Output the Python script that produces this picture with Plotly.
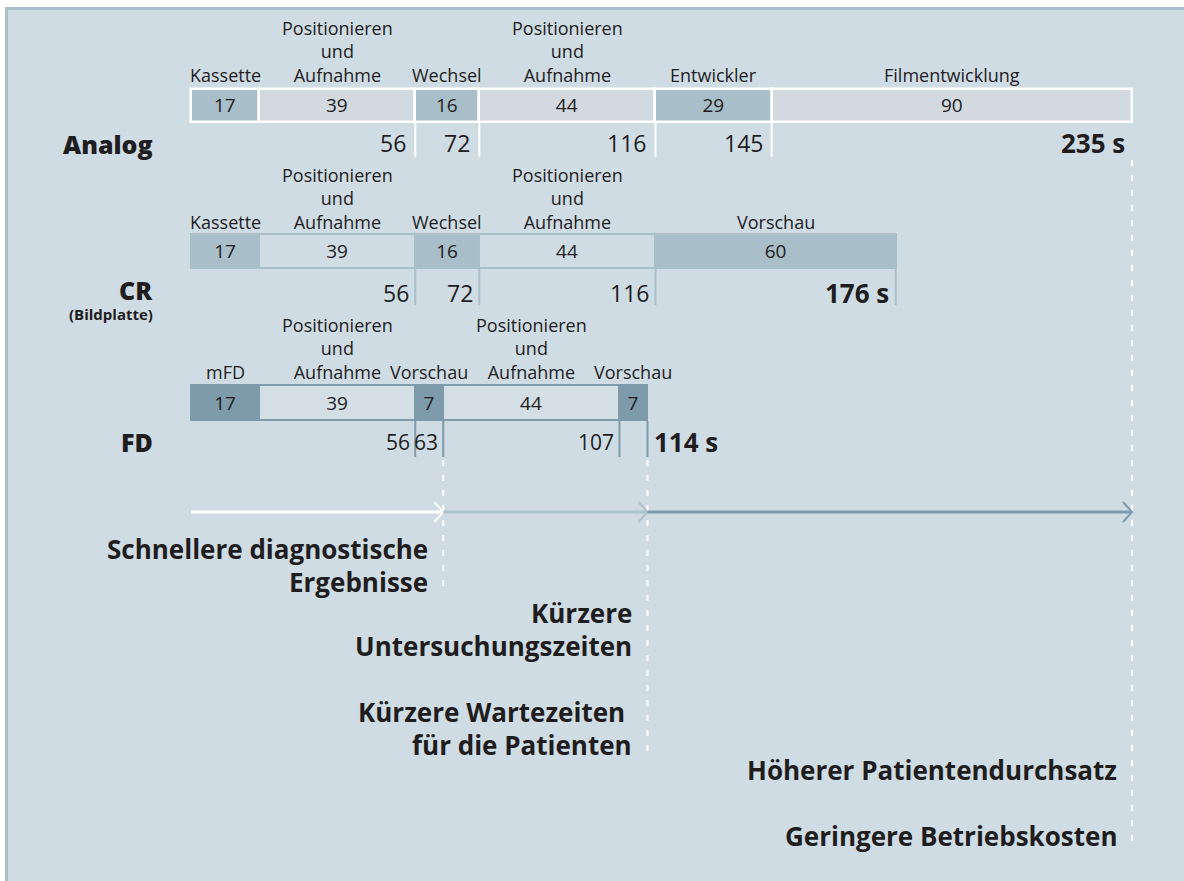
import numpy as np
import plotly.graph_objects as go

# ---------------- data ----------------
analog_steps = ["Kassette", "Positionieren\nund\nAufnahme", "Wechsel",
                "Positionieren\nund\nAufnahme", "Entwickler", "Filmentwicklung"]
analog_secs = [17, 39, 16, 44, 29, 90]

cr_steps = ["Kassette", "Positionieren\nund\nAufnahme", "Wechsel",
            "Positionieren\nund\nAufnahme", "Vorschau"]
cr_secs = [17, 39, 16, 44, 60]

fd_steps = ["mFD", "Positionieren\nund\nAufnahme", "Vorschau",
            "Positionieren\nund\nAufnahme", "Vorschau"]
fd_secs = [17, 39, 7, 44, 7]

system_names = ["Analog", "CR", "FD"]
system_notes = ["", "(Bildplatte)", ""]

benefit_first_preview = ["Schnellere diagnostische", "Ergebnisse"]
benefit_fd_total = ["Kürzere", "Untersuchungszeiten", "", "Kürzere Wartezeiten ", "für die Patienten"]
benefit_analog_total = ["Höherer Patientendurchsatz", "", "Geringere Betriebskosten"]
unit = "s"

# ---------------- styles / layout ----------------
W, H = 1184, 881
X0_PX, X235_PX = 191, 1132          # pixel positions of 0 s and 235 s
S = (X235_PX - X0_PX) / 235.0       # px per second
XMIN = -X0_PX / S
XMAX = XMIN + W / S

BG = "#cfdce4"
BORDER = "#a9bfca"
DARK_A = "#a8bec9"
LIGHT_A = "#d2d9df"
DARK_FD = "#7d9bab"
LIGHT_FD = "#d3dee5"
TEXT = "#1f1d1e"
FONT = "Open Sans"
LABEL_SIZE = 18

rows = [
    dict(secs=analog_secs, steps=analog_steps, top=88, bot=123, lab=75, num=143, sepbot=157,
         dark=DARK_A, light=LIGHT_A, line="#ffffff", linew=2.5, sep="#ffffff",
         sep_end=False, total_side="left", name_y=144, note_y=None, num_size=23, num_shift=-7),
    dict(secs=cr_secs, steps=cr_steps, top=233, bot=269, lab=222, num=293, sepbot=305,
         dark=DARK_A, light=BG, line=BORDER, linew=2, sep=BORDER,
         sep_end=True, total_side="left", name_y=290, note_y=314, num_size=23, num_shift=-4),
    dict(secs=fd_secs, steps=fd_steps, top=384, bot=421, lab=372, num=442, sepbot=457,
         dark=DARK_FD, light=LIGHT_FD, line=DARK_FD, linew=2, sep=DARK_FD,
         sep_end=True, total_side="right", name_y=442, note_y=None, num_size=21, num_shift=-3),
]

fig = go.Figure()
shapes = []
annotations = []


def ann(x, y, text, size, weight="normal", xanchor="center", xref="x", xshift=0, color=TEXT):
    annotations.append(dict(x=x, y=y, xref=xref, yref="y", text=text, showarrow=False,
                            xanchor=xanchor, yanchor="middle", xshift=xshift,
                            font=dict(family=FONT, size=size, color=color, weight=weight)))


# panel background + border
shapes.append(dict(type="rect", xref="paper", yref="y", x0=5 / W, x1=1, y0=7, y1=H,
                   fillcolor=BG, line=dict(width=0), layer="below"))
shapes.append(dict(type="line", xref="paper", yref="y", x0=6.5 / W, x1=6.5 / W, y0=7, y1=H,
                   line=dict(color=BORDER, width=3), layer="below"))
shapes.append(dict(type="line", xref="paper", yref="y", x0=5 / W, x1=1, y0=8.5, y1=8.5,
                   line=dict(color=BORDER, width=3), layer="below"))

for i, r in enumerate(rows):
    secs = np.array(r["secs"])
    ends = np.cumsum(secs)
    starts = ends - secs
    mids = starts + secs / 2
    lw = r["linew"]
    fills = [r["dark"] if k % 2 == 0 else r["light"] for k in range(len(secs))]
    fig.add_trace(go.Bar(
        orientation="h", y=[(r["top"] + r["bot"]) / 2] * len(secs), x=secs, base=starts,
        width=(r["bot"] - r["top"]) - lw,
        marker=dict(color=fills, line=dict(color=r["line"], width=lw)),
        text=[str(v) for v in secs], textposition="inside", insidetextanchor="middle",
        textangle=0, constraintext="none",
        insidetextfont=dict(family=FONT, size=19, color=TEXT),
        hoverinfo="skip", showlegend=False))

    # step labels above bar (bottom line aligned at r["lab"])
    spacing = 1.3 * LABEL_SIZE
    for m, st in zip(mids, r["steps"]):
        lines = st.split("\n")
        yc = r["lab"] - (len(lines) - 1) * spacing / 2
        ann(m, yc, "<br>".join(lines), LABEL_SIZE)

    # separators below bar
    sep_pos = ends[1:] if r["sep_end"] else ends[1:-1]
    for e in sep_pos:
        shapes.append(dict(type="line", xref="x", yref="y", x0=e, x1=e, y0=r["bot"], y1=r["sepbot"],
                           line=dict(color=r["sep"], width=2)))

    # cumulative numbers
    for e in ends[1:-1]:
        ann(e, r["num"], str(int(e)), r["num_size"], xanchor="right", xshift=r["num_shift"])
    if r["total_side"] == "left":
        ann(ends[-1], r["num"], f"{int(ends[-1])} {unit}", 26, weight="bold", xanchor="right", xshift=-5)
    else:
        ann(ends[-1], r["num"], f"{int(ends[-1])} {unit}", 26, weight="bold", xanchor="left", xshift=5)

    # system name
    ann(155 / W, r["name_y"], system_names[i], 25, weight=800, xanchor="right", xref="paper")
    if system_notes[i]:
        ann(155 / W, r["note_y"], system_notes[i], 15, weight="bold", xanchor="right", xref="paper")

# key time points
fd_ends = np.cumsum(fd_secs)
analog_ends = np.cumsum(analog_secs)
t_preview = fd_ends[2]
t_fd = fd_ends[-1]
t_analog = analog_ends[-1]

# dashed white guide lines
for t, y0, y1 in [(t_preview, 460, 592), (t_fd, 460, 758), (t_analog, 160, 850)]:
    shapes.append(dict(type="line", xref="x", yref="y", x0=t, x1=t, y0=y0, y1=y1,
                       line=dict(color="#ffffff", width=2, dash="6px,9px")))

# arrows
ARROW_Y = 512
for a, b, col in [(0, t_preview, "#ffffff"), (t_preview, t_fd, "#adc2cc"), (t_fd, t_analog, DARK_FD)]:
    shapes.append(dict(type="line", xref="x", yref="y", x0=a, x1=b, y0=ARROW_Y, y1=ARROW_Y,
                       line=dict(color=col, width=3)))
    dx = 9 / S
    shapes.append(dict(type="path", xref="x", yref="y",
                       path=f"M {b - dx},{ARROW_Y - 10} L {b},{ARROW_Y} L {b - dx},{ARROW_Y + 10}",
                       line=dict(color=col, width=2)))

# benefits text
for lines, t, y_first in [(benefit_first_preview, t_preview, 549),
                          (benefit_fd_total, t_fd, 613),
                          (benefit_analog_total, t_analog, 770)]:
    for j, ln in enumerate(lines):
        if ln:
            ann(t, y_first + j * 33, ln.replace(" ", "\u00a0") if ln.endswith(" ") else ln,
                26, weight="bold", xanchor="right", xshift=-13)

fig.update_layout(
    width=W, height=H, margin=dict(l=0, r=0, t=0, b=0),
    paper_bgcolor="#ffffff", plot_bgcolor="rgba(0,0,0,0)",
    barmode="overlay", bargap=0,
    xaxis=dict(range=[XMIN, XMAX], visible=False, fixedrange=True),
    yaxis=dict(range=[H, 0], visible=False, fixedrange=True),
    shapes=shapes, annotations=annotations, showlegend=False,
)

fig.write_html("out.html", config={"displayModeBar": False},
               post_script="document.body.style.margin='0';document.body.style.overflow='hidden';")
